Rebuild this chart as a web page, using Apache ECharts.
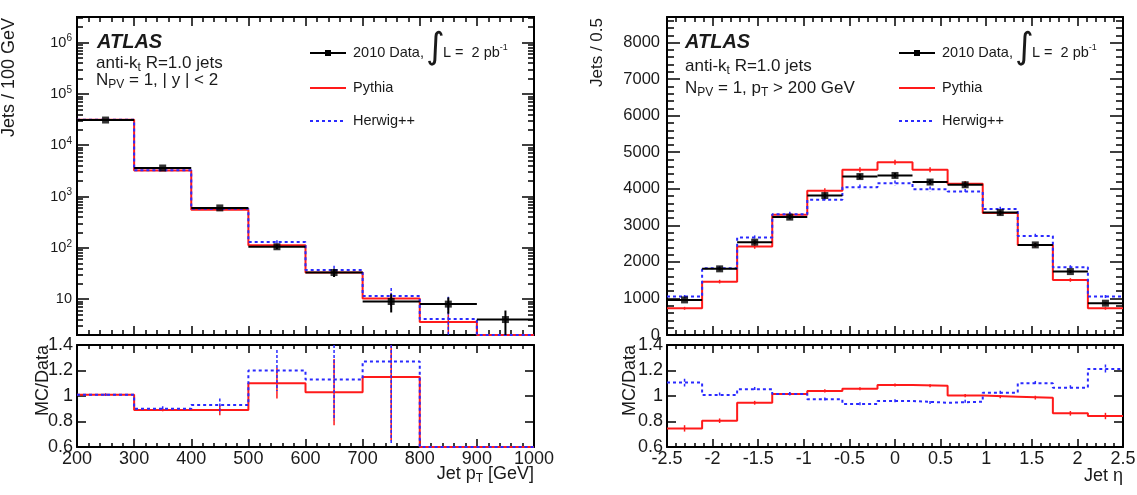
<!DOCTYPE html>
<html>
<head>
<meta charset="utf-8">
<script src="https://cdn.jsdelivr.net/npm/echarts@6/dist/echarts.min.js"></script>
<style>
  html, body { margin: 0; padding: 0; background: #fff; }
  #chart { width: 1137px; height: 495px; }
</style>
</head>
<body>
<div id="chart"></div>
<script>
// ---- jet pT spectrum (left) ----
var ptEdges = [200, 300, 400, 500, 600, 700, 800, 900, 1000];
var ptData = [31000, 3600, 600, 105, 33, 9, 8, 4];
var ptDataErr = [180, 60, 25, 10, 6, 3.5, 2.8, 2];
var ptPythia = [31500, 3200, 550, 112, 33, 10.3, 3.6, 0];
var ptPythiaErr = [300, 40, 15, 8, 5, 3, 1.5, 0];
var ptHerwig = [31500, 3250, 575, 130, 37, 11.5, 4.1, 0];
var ptHerwigErr = [300, 40, 15, 10, 8, 5, 7, 0];
var ptRatioPythia = [1.01, 0.89, 0.89, 1.10, 1.03, 1.15, 0.45, 0];
var ptRatioPythiaErr = [0.01, 0.01, 0.04, 0.12, 0.26, 0.5, 0, 0];
var ptRatioHerwig = [1.01, 0.90, 0.93, 1.20, 1.13, 1.27, 0.51, 0];
var ptRatioHerwigErr = [0.01, 0.02, 0.05, 0.16, 0.32, 0.65, 0, 0];

// ---- jet eta (right) ----
var etaEdges = [-2.5, -2.115, -1.731, -1.346, -0.962, -0.577, -0.192, 0.192, 0.577, 0.962, 1.346, 1.731, 2.115, 2.5];
var etaData = [960, 1810, 2540, 3225, 3815, 4335, 4365, 4185, 4110, 3350, 2465, 1735, 870];
var etaDataErr = [31, 43, 50, 57, 62, 66, 66, 65, 64, 58, 50, 42, 30];
var etaPythia = [730, 1460, 2420, 3290, 3945, 4520, 4725, 4520, 4140, 3335, 2460, 1505, 730];
var etaPythiaErr = [40, 50, 60, 60, 70, 70, 70, 70, 70, 60, 60, 50, 40];
var etaHerwig = [1050, 1825, 2665, 3305, 3700, 4045, 4155, 3990, 3925, 3445, 2710, 1855, 1050];
var etaHerwigErr = [45, 55, 60, 65, 70, 70, 70, 70, 70, 65, 60, 55, 45];
var etaRatioPythia = [0.746, 0.806, 0.947, 1.016, 1.04, 1.057, 1.087, 1.081, 1.003, 0.995, 0.987, 0.864, 0.843];
var etaRatioPythiaErr = [0.025, 0.018, 0.015, 0.013, 0.013, 0.012, 0.012, 0.012, 0.013, 0.013, 0.015, 0.018, 0.025];
var etaRatioHerwig = [1.105, 1.008, 1.053, 1.016, 0.974, 0.937, 0.961, 0.947, 0.955, 1.026, 1.10, 1.065, 1.212];
var etaRatioHerwigErr = [0.03, 0.02, 0.018, 0.015, 0.015, 0.014, 0.014, 0.014, 0.015, 0.015, 0.018, 0.02, 0.035];

// log axis ticks
var logMajor = [10, 100, 1000, 10000, 100000, 1000000];
var logMinor = [];
[1, 10, 100, 1000, 10000, 100000, 1000000].forEach(function (d) {
  for (var m = 2; m <= 9; m++) {
    if (m * d > 2 && m * d < 3.16e6) logMinor.push(m * d);
  }
});

var FONT = '"Liberation Sans", Arial, Helvetica, sans-serif';
var TXT = '#1a1a1a';
var RED = '#ff1a1a';
var BLUE = '#2a2aff';
var LOG_MIN = 2, LOG_MAX = 3.16e6;
var AXLINE = { show: true, onZero: false, lineStyle: { color: '#000', width: 2 } };
var TICK = { color: '#000', width: 1.5 };

function clamp(v, lo, hi) { return Math.min(hi, Math.max(lo, v)); }
function lg(v) { return Math.log(v) / Math.LN10; }

// histogram as step line through bin edges
function stepData(edges, vals, lo, hi) {
  var out = [];
  for (var i = 0; i < vals.length; i++) out.push([edges[i], clamp(vals[i], lo, hi)]);
  out.push([edges[edges.length - 1], clamp(vals[vals.length - 1], lo, hi)]);
  return out;
}
function errData(edges, vals, errs, lo, hi) {
  var out = [];
  for (var i = 0; i < vals.length; i++) {
    if (vals[i] < lo || vals[i] > hi) continue;
    var xc = (edges[i] + edges[i + 1]) / 2;
    out.push([xc, vals[i], clamp(vals[i] - errs[i], lo, hi), clamp(vals[i] + errs[i], lo, hi), edges[i], edges[i + 1]]);
  }
  return out;
}
function points(edges, vals) {
  return vals.map(function (v, i) { return [(edges[i] + edges[i + 1]) / 2, v]; });
}
function errBars(color, width, dash, withX) {
  return function (params, api) {
    var t = api.coord([api.value(0), api.value(3)]);
    var b = api.coord([api.value(0), api.value(2)]);
    var kids = [{ type: 'line', shape: { x1: t[0], y1: t[1], x2: b[0], y2: b[1] },
      style: { stroke: color, lineWidth: width, lineDash: dash } }];
    if (withX) {
      var l = api.coord([api.value(4), api.value(1)]);
      var r = api.coord([api.value(5), api.value(1)]);
      kids.push({ type: 'line', shape: { x1: l[0], y1: l[1], x2: r[0], y2: r[1] },
        style: { stroke: color, lineWidth: width } });
    }
    return { type: 'group', children: kids };
  };
}
function plain(v) { return String(Math.round(v * 1000) / 1000); }

function xAx(grid, pos, min, max, interval, labels, major, minor) {
  return {
    type: 'value', gridIndex: grid, position: pos, min: min, max: max, interval: interval,
    axisLine: AXLINE, splitLine: { show: false },
    axisTick: { show: true, inside: true, length: major, lineStyle: TICK },
    minorTick: { show: true, splitNumber: 5, length: minor, lineStyle: TICK },
    axisLabel: { show: labels, color: TXT, fontFamily: FONT, fontSize: 18, margin: 3, formatter: plain }
  };
}
function yAx(grid, pos, min, max, interval, labels, fs, major, minor, margin) {
  return {
    type: 'value', gridIndex: grid, position: pos, min: min, max: max, interval: interval,
    axisLine: AXLINE, splitLine: { show: false },
    axisTick: { show: true, inside: true, length: major, lineStyle: TICK },
    minorTick: { show: minor > 0, splitNumber: 5, length: minor, lineStyle: TICK },
    axisLabel: { show: labels, color: TXT, fontFamily: FONT, fontSize: fs, margin: margin,
      showMaxLabel: max === 1.4, formatter: plain }
  };
}
// log axis that carries the series and the labels
function logAx() {
  return {
    type: 'log', logBase: 10, gridIndex: 0, position: 'left', min: LOG_MIN, max: LOG_MAX,
    axisLine: AXLINE, splitLine: { show: false }, axisTick: { show: false },
    axisLabel: {
      show: true, customValues: logMajor, margin: 5,
      formatter: function (v) {
        var e = Math.round(lg(v));
        return e === 1 ? '{b|10}' : '{b|10}{e|' + e + '}';
      },
      rich: {
        b: { fontSize: 14.5, fontFamily: FONT, color: TXT, lineHeight: 18, verticalAlign: 'middle' },
        e: { fontSize: 10, fontFamily: FONT, color: TXT, lineHeight: 10, verticalAlign: 'top' }
      }
    }
  };
}
// same range in log10 units, only for tick marks
function logTickAx(pos, ticks, len) {
  return {
    type: 'value', gridIndex: 0, position: pos, min: lg(LOG_MIN), max: lg(LOG_MAX),
    axisLine: AXLINE, splitLine: { show: false }, axisLabel: { show: false },
    axisTick: { show: true, inside: true, length: len, customValues: ticks.map(lg), lineStyle: TICK }
  };
}

function hist(name, xi, yi, data, color, dash) {
  return { name: name, type: 'line', xAxisIndex: xi, yAxisIndex: yi, step: 'end', data: data,
    symbol: 'none', silent: true, z: dash ? 4 : 3,
    lineStyle: { color: color, width: 2, type: dash ? [3, 3] : 'solid' } };
}
function errs(xi, yi, data, color, width, dash, withX, z) {
  return { type: 'custom', xAxisIndex: xi, yAxisIndex: yi, data: data, silent: true, z: z,
    renderItem: errBars(color, width, dash, withX) };
}
function dots(xi, yi, data) {
  return { type: 'scatter', xAxisIndex: xi, yAxisIndex: yi, data: data, symbol: 'rect',
    symbolSize: 7, itemStyle: { color: '#000' }, silent: true, z: 6 };
}

var series = [
  // left main
  hist('Pythia', 0, 0, stepData(ptEdges, ptPythia, LOG_MIN, LOG_MAX), RED, false),
  hist('Herwig++', 0, 0, stepData(ptEdges, ptHerwig, LOG_MIN, LOG_MAX), BLUE, true),
  errs(0, 0, errData(ptEdges, ptPythia, ptPythiaErr, LOG_MIN, LOG_MAX), RED, 1.5, null, false, 3),
  errs(0, 0, errData(ptEdges, ptHerwig, ptHerwigErr, LOG_MIN, LOG_MAX), BLUE, 1.5, [3, 2], false, 4),
  errs(0, 0, errData(ptEdges, ptData, ptDataErr, LOG_MIN, LOG_MAX), '#000', 2, null, true, 5),
  dots(0, 0, points(ptEdges, ptData)),
  // left ratio
  hist('Pythia', 2, 5, stepData(ptEdges, ptRatioPythia, 0.6, 1.4), RED, false),
  hist('Herwig++', 2, 5, stepData(ptEdges, ptRatioHerwig, 0.6, 1.4), BLUE, true),
  errs(2, 5, errData(ptEdges, ptRatioPythia, ptRatioPythiaErr, 0.6, 1.4), RED, 1.5, null, false, 3),
  errs(2, 5, errData(ptEdges, ptRatioHerwig, ptRatioHerwigErr, 0.6, 1.4), BLUE, 1.5, [3, 2], false, 4),
  // right main
  hist('Pythia', 4, 7, stepData(etaEdges, etaPythia, 0, 8700), RED, false),
  hist('Herwig++', 4, 7, stepData(etaEdges, etaHerwig, 0, 8700), BLUE, true),
  errs(4, 7, errData(etaEdges, etaPythia, etaPythiaErr, 0, 8700), RED, 1.5, null, false, 3),
  errs(4, 7, errData(etaEdges, etaHerwig, etaHerwigErr, 0, 8700), BLUE, 1.5, [3, 2], false, 4),
  errs(4, 7, errData(etaEdges, etaData, etaDataErr, 0, 8700), '#000', 2, null, true, 5),
  dots(4, 7, points(etaEdges, etaData)),
  // right ratio
  hist('Pythia', 6, 9, stepData(etaEdges, etaRatioPythia, 0.6, 1.4), RED, false),
  hist('Herwig++', 6, 9, stepData(etaEdges, etaRatioHerwig, 0.6, 1.4), BLUE, true),
  errs(6, 9, errData(etaEdges, etaRatioPythia, etaRatioPythiaErr, 0.6, 1.4), RED, 1.5, null, false, 3),
  errs(6, 9, errData(etaEdges, etaRatioHerwig, etaRatioHerwigErr, 0.6, 1.4), BLUE, 1.5, [3, 2], false, 4)
];

var richSub = {
  n: { fontSize: 17, fontFamily: FONT, fill: TXT, lineHeight: 22, verticalAlign: 'middle' },
  s: { fontSize: 12, fontFamily: FONT, fill: TXT, lineHeight: 12, verticalAlign: 'bottom' },
  p: { fontSize: 10, fontFamily: FONT, fill: TXT, lineHeight: 10, verticalAlign: 'top' }
};
function txt(x, y, text, opts) {
  var st = { x: 0, y: 0, text: text, fill: TXT, font: (opts && opts.font) || ('15px ' + FONT),
    align: (opts && opts.align) || 'left', verticalAlign: 'middle' };
  if (opts && opts.rich) st.rich = opts.rich;
  return { type: 'text', x: x, y: y, rotation: (opts && opts.rot) || 0, style: st, silent: true };
}
function legend(x0) {
  return [
    { type: 'line', shape: { x1: x0, y1: 53, x2: x0 + 36, y2: 53 }, style: { stroke: '#000', lineWidth: 2 } },
    { type: 'rect', shape: { x: x0 + 15, y: 50, width: 6, height: 6 }, style: { fill: '#000' } },
    txt(x0 + 43, 53, '2010 Data,', { font: '14.5px ' + FONT }),
    txt(x0 + 116, 49, '\u222b', { font: '36px "DejaVu Sans"' }),
    txt(x0 + 133, 53, '{t|L =  2 pb}{p|-1}', { rich: {
      t: { fontSize: 14.5, fontFamily: FONT, fill: TXT, lineHeight: 20, verticalAlign: 'middle' },
      p: { fontSize: 9, fontFamily: FONT, fill: TXT, lineHeight: 9, verticalAlign: 'top' } } }),
    { type: 'line', shape: { x1: x0, y1: 88, x2: x0 + 36, y2: 88 }, style: { stroke: RED, lineWidth: 2 } },
    txt(x0 + 43, 88, 'Pythia', { font: '14.5px ' + FONT }),
    { type: 'line', shape: { x1: x0, y1: 121, x2: x0 + 36, y2: 121 }, style: { stroke: BLUE, lineWidth: 2, lineDash: [3, 3] } },
    txt(x0 + 43, 121, 'Herwig++', { font: '14.5px ' + FONT })
  ];
}

var graphics = [
  txt(97, 42, 'ATLAS', { font: 'italic bold 20px ' + FONT }),
  txt(96, 63, '{n|anti-k}{s|t}{n| R=1.0 jets}', { rich: richSub }),
  txt(96, 80, '{n|N}{s|PV}{n| = 1, | y | < 2}', { rich: richSub }),
  txt(685, 42, 'ATLAS', { font: 'italic bold 20px ' + FONT }),
  txt(685, 66, '{n|anti-k}{s|t}{n| R=1.0 jets}', { rich: richSub }),
  txt(685, 88, '{n|N}{s|PV}{n| = 1, p}{s|T}{n| > 200 GeV}', { rich: richSub }),
  txt(9, 18, 'Jets / 100 GeV', { font: '18px ' + FONT, align: 'right', rot: Math.PI / 2 }),
  txt(43, 345, 'MC/Data', { font: '18px ' + FONT, align: 'right', rot: Math.PI / 2 }),
  txt(597, 18, 'Jets / 0.5', { font: '17px ' + FONT, align: 'right', rot: Math.PI / 2 }),
  txt(630, 345, 'MC/Data', { font: '18px ' + FONT, align: 'right', rot: Math.PI / 2 }),
  txt(534, 474, '{n|Jet p}{s|T}{n| [GeV]}', { align: 'right', rich: {
    n: { fontSize: 18, fontFamily: FONT, fill: TXT, lineHeight: 22, verticalAlign: 'middle' },
    s: { fontSize: 12, fontFamily: FONT, fill: TXT, lineHeight: 12, verticalAlign: 'bottom' } } }),
  txt(1123, 476, 'Jet \u03b7', { font: '18px ' + FONT, align: 'right' })
].concat(legend(310)).concat(legend(899));

var gridBase = { show: false, containLabel: false, outerBoundsMode: 'none' };
var option = {
  animation: false,
  backgroundColor: '#fff',
  grid: [
    Object.assign({ left: 77, top: 17, width: 457, height: 318 }, gridBase),
    Object.assign({ left: 77, top: 345, width: 457, height: 102 }, gridBase),
    Object.assign({ left: 667, top: 17, width: 456, height: 318 }, gridBase),
    Object.assign({ left: 667, top: 345, width: 456, height: 102 }, gridBase)
  ],
  xAxis: [
    xAx(0, 'bottom', 200, 1000, 100, false, 9, 5),
    xAx(0, 'top', 200, 1000, 100, false, 9, 5),
    xAx(1, 'bottom', 200, 1000, 100, true, 8, 4),
    xAx(1, 'top', 200, 1000, 100, false, 8, 4),
    xAx(2, 'bottom', -2.5, 2.5, 0.5, false, 9, 5),
    xAx(2, 'top', -2.5, 2.5, 0.5, false, 9, 5),
    xAx(3, 'bottom', -2.5, 2.5, 0.5, true, 8, 4),
    xAx(3, 'top', -2.5, 2.5, 0.5, false, 8, 4)
  ],
  yAxis: [
    logAx(),                                   // 0
    logTickAx('left', logMajor, 12),           // 1
    logTickAx('left', logMinor, 6),            // 2
    logTickAx('right', logMajor, 12),          // 3
    logTickAx('right', logMinor, 6),           // 4
    yAx(1, 'left', 0.6, 1.4, 0.2, true, 18, 9, 0, 4),      // 5
    yAx(1, 'right', 0.6, 1.4, 0.2, false, 18, 9, 0, 4),    // 6
    yAx(2, 'left', 0, 8700, 1000, true, 16.5, 13, 7, 7),   // 7
    yAx(2, 'right', 0, 8700, 1000, false, 16.5, 13, 7, 7), // 8
    yAx(3, 'left', 0.6, 1.4, 0.2, true, 18, 9, 0, 4),      // 9
    yAx(3, 'right', 0.6, 1.4, 0.2, false, 18, 9, 0, 4)     // 10
  ],
  series: series,
  graphic: graphics
};

var myChart = echarts.init(document.getElementById('chart'));
myChart.setOption(option);
</script>
</body>
</html>
